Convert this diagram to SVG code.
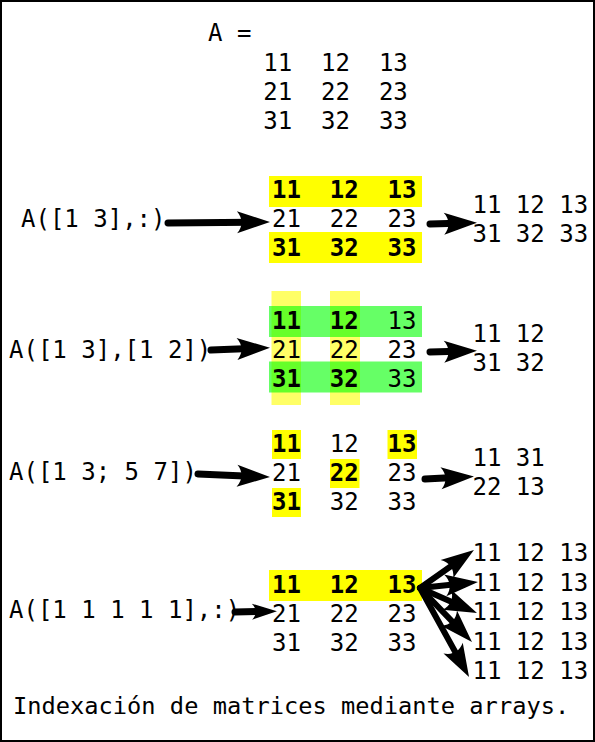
<svg xmlns="http://www.w3.org/2000/svg" width="595" height="742" viewBox="0 0 595 742" xml:space="preserve">
<style>
text{font-family:"DejaVu Sans Mono","Liberation Mono",monospace;font-size:24px;fill:#000;white-space:pre}
.b{font-weight:bold}
.hl{fill:#ffff00}
.ly{fill:#ffff00;opacity:0.6}
.lg{fill:#00ff00;opacity:0.6}
.arr{fill:none;stroke:#000;stroke-width:7;stroke-linecap:round;marker-end:url(#head)}
.arrs{fill:none;stroke:#000;stroke-width:7;stroke-linecap:round;marker-end:url(#heads)}
.arrf{fill:none;stroke:#000;stroke-width:6;stroke-linecap:round;marker-end:url(#head)}
</style>
<defs>
<marker id="head" markerUnits="userSpaceOnUse" viewBox="-20 -15 45 30" markerWidth="45" markerHeight="30" refX="0" refY="0" orient="auto">
<path d="M20,0 L-13,-11 C-7,-4 -7,4 -13,11 Z" fill="#000"/>
</marker>
<marker id="heads" markerUnits="userSpaceOnUse" viewBox="-20 -15 45 30" markerWidth="45" markerHeight="30" refX="0" refY="0" orient="auto">
<path d="M15,0 L-10,-8 C-5,-3 -5,3 -10,8 Z" fill="#000"/>
</marker>
</defs>
<rect x="1" y="1" width="593" height="740" fill="#fff" stroke="#000" stroke-width="2"/>
<g id="matrix-A">
<text x="208" y="41">A =</text>
<text x="263.3" y="71">11  12  13</text>
<text x="263.3" y="100">21  22  23</text>
<text x="263.3" y="129">31  32  33</text>
</g>
<g id="label-1"><text x="21" y="227">A([1 3],:)</text></g>
<g id="matrix-1">
<rect class="hl" x="269" y="176" width="153" height="31"/>
<rect class="hl" x="269" y="232" width="153" height="31"/>
<text x="272" y="198" class="b">11  12  13</text>
<text x="272" y="227">21  22  23</text>
<text x="272" y="256" class="b">31  32  33</text>
</g>
<g id="result-1">
<text x="472.5" y="213">11 12 13</text>
<text x="472.5" y="242">31 32 33</text>
</g>
<g id="label-2"><text x="9" y="358">A([1 3],[1 2])</text></g>
<g id="matrix-2">
<rect class="ly" x="271.5" y="291" width="29.5" height="114"/>
<rect class="ly" x="330" y="291" width="30" height="114"/>
<rect class="lg" x="269" y="306" width="153" height="31"/>
<rect class="lg" x="269" y="361.5" width="153" height="31"/>
<text x="272" y="329"><tspan class="b">11  12</tspan>  13</text>
<text x="272" y="358">21  22  23</text>
<text x="272" y="387"><tspan class="b">31  32</tspan>  33</text>
</g>
<g id="result-2">
<text x="472.5" y="342">11 12</text>
<text x="472.5" y="371">31 32</text>
</g>
<g id="label-3"><text x="9" y="480">A([1 3; 5 7])</text></g>
<g id="matrix-3">
<rect class="hl" x="272" y="430" width="29" height="29"/>
<rect class="hl" x="387.5" y="430" width="29.5" height="29"/>
<rect class="hl" x="330" y="459" width="29.5" height="29"/>
<rect class="hl" x="272" y="488" width="29" height="29"/>
<text x="272" y="452"><tspan class="b">11</tspan>  12  <tspan class="b">13</tspan></text>
<text x="272" y="481">21  <tspan class="b">22</tspan>  23</text>
<text x="272" y="510"><tspan class="b">31</tspan>  32  33</text>
</g>
<g id="result-3">
<text x="472.5" y="466">11 31</text>
<text x="472.5" y="495">22 13</text>
</g>
<g id="label-4"><text x="9" y="618">A([1 1 1 1 1],:)</text></g>
<g id="matrix-4">
<rect class="hl" x="269" y="570" width="153" height="31"/>
<text x="272" y="593" class="b">11  12  13</text>
<text x="272" y="622">21  22  23</text>
<text x="272" y="651">31  32  33</text>
</g>
<g id="result-4">
<text x="472.5" y="561">11 12 13</text>
<text x="472.5" y="590.5">11 12 13</text>
<text x="472.5" y="620">11 12 13</text>
<text x="472.5" y="649.5">11 12 13</text>
<text x="472.5" y="679">11 12 13</text>
</g>
<g id="caption"><text x="13" y="714" style="font-size:23.7px">Indexación de matrices mediante arrays.</text></g>
<g id="connectors">
<path class="arr" d="M168,223 L250,222.2"/>
<path class="arr" d="M430,224 L457,223.3"/>
<path class="arr" d="M211,350 L250,348.5"/>
<path class="arr" d="M430,352 L457,351.3"/>
<path class="arr" d="M198,474 L250,476.2"/>
<path class="arr" d="M425,479 L454,477.5"/>
<path class="arrs" d="M235,612 L262,611.5"/>
<path class="arrf" d="M420,588 L457.6,561.5"/>
<path class="arrf" d="M420,588 L458.1,584.1"/>
<path class="arrf" d="M420,588 L458.7,605"/>
<path class="arrf" d="M420,588 L458.1,627.6"/>
<path class="arrf" d="M420,588 L459.4,659.5"/>
</g>
</svg>
